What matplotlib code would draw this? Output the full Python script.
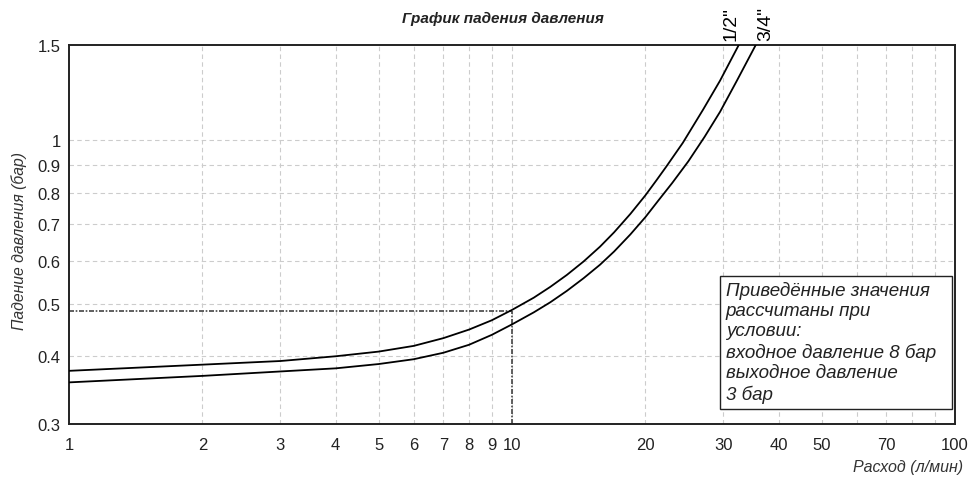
import matplotlib.pyplot as plt
from matplotlib.patches import Rectangle
from matplotlib.ticker import FixedLocator, NullLocator, NullFormatter

plt.rcParams['font.family'] = ['Liberation Sans', 'DejaVu Sans']

# Curve 1/2" (flow l/min, pressure drop bar)
flow_half = [1, 2, 3, 4, 5, 6, 7, 8, 9, 10, 11.2, 12.2, 13.3, 14.5, 15.8, 17, 18.5,
             20, 21.2, 22.3, 24.3, 27, 29.5, 32.5]
drop_half = [0.376, 0.386, 0.392, 0.400, 0.408, 0.418, 0.432, 0.448, 0.466, 0.487,
             0.513, 0.537, 0.565, 0.598, 0.637, 0.677, 0.732, 0.792, 0.845, 0.895,
             0.99, 1.14, 1.29, 1.50]

# Curve 3/4"
flow_3q = [1, 2, 3, 4, 5, 6, 7, 8, 9, 10, 11.2, 12.2, 13.3, 14.5, 15.8, 17, 18.5,
           20, 21.4, 23, 25, 27.2, 29.5, 32.2, 35.5]
drop_3q = [0.358, 0.368, 0.375, 0.380, 0.387, 0.395, 0.406, 0.420, 0.438, 0.458,
           0.482, 0.503, 0.528, 0.557, 0.590, 0.624, 0.671, 0.722, 0.775, 0.835,
           0.915, 1.015, 1.13, 1.29, 1.50]

# reading example
ref_flow = 10
ref_drop = 0.485

x_ticks = [1, 2, 3, 4, 5, 6, 7, 8, 9, 10, 20, 30, 40, 50, 70, 100]
x_grid = [2, 3, 4, 5, 6, 7, 8, 9, 10, 20, 30, 40, 50, 60, 70, 80, 90]
y_ticks = [0.3, 0.4, 0.5, 0.6, 0.7, 0.8, 0.9, 1, 1.5]
y_labels = ['0.3', '0.4', '0.5', '0.6', '0.7', '0.8', '0.9', '1', '1.5']
y_grid = [0.4, 0.5, 0.6, 0.7, 0.8, 0.9, 1.0]

note = ('Приведённые значения\nрассчитаны при\nусловии:\n'
        'входное давление 8 бар\nвыходное давление\n3 бар')

fig = plt.figure(figsize=(9.73, 4.81), dpi=100)
ax = fig.add_axes([0.0709, 0.1164, 0.9106, 0.788])
ax.set_xscale('log')
ax.set_yscale('log')
ax.set_xlim(1, 100)
ax.set_ylim(0.3, 1.5)

for g in x_grid:
    ax.axvline(g, color='#cccccc', lw=0.8, ls=(0, (4, 3)), zorder=0)
for g in y_grid:
    ax.axhline(g, color='#cccccc', lw=0.8, ls=(0, (4, 3)), zorder=0)

ax.plot(flow_half, drop_half, color='black', lw=1.3, zorder=3)
ax.plot(flow_3q, drop_3q, color='black', lw=1.3, zorder=3)

ax.plot([1, ref_flow], [ref_drop, ref_drop], color='#444444', lw=1.2, ls=(0, (3, 1, 1, 1)), zorder=2)
ax.plot([ref_flow, ref_flow], [0.3, ref_drop], color='#444444', lw=1.2, ls=(0, (3, 1, 1, 1)), zorder=2)

ax.xaxis.set_major_locator(FixedLocator(x_ticks))
ax.set_xticklabels([str(t) for t in x_ticks])
ax.xaxis.set_minor_locator(NullLocator())
ax.xaxis.set_minor_formatter(NullFormatter())
ax.yaxis.set_major_locator(FixedLocator(y_ticks))
ax.set_yticklabels(y_labels)
ax.yaxis.set_minor_locator(NullLocator())
ax.yaxis.set_minor_formatter(NullFormatter())
ax.tick_params(axis='both', length=0, labelsize=12, colors='#222222')
ax.tick_params(axis='x', pad=9)
ax.tick_params(axis='y', pad=6)

for s in ax.spines.values():
    s.set_linewidth(1.4)
    s.set_color('#222222')

ax.text(flow_half[-1] * 0.96, 1.53, '1/2"', rotation=90, fontsize=14,
        ha='center', va='bottom', color='black')
ax.text(flow_3q[-1] * 1.055, 1.53, '3/4"', rotation=90, fontsize=14,
        ha='center', va='bottom', color='black')

fig.text(0.517, 0.96, 'График падения давления', fontsize=11, style='italic',
         fontweight='bold', ha='center', va='center', color='#222222')
fig.text(0.02, 0.5, 'Падение давления (бар)', rotation=90, fontsize=11.3,
         style='italic', ha='center', va='center', color='#333333')
fig.text(0.99, 0.028, 'Расход (л/мин)', fontsize=11.5, style='italic',
         ha='right', va='center', color='#333333')

ax.add_patch(Rectangle((0.7348, 0.0396), 0.2618, 0.351, transform=ax.transAxes,
                       fc='white', ec='#222222', lw=1.0, zorder=5))
ax.text(0.7415, 0.378, note, transform=ax.transAxes, fontsize=13.5,
        style='italic', ha='left', va='top', linespacing=1.25, color='#222222',
        zorder=6)

fig.savefig('out.png', dpi=100)
